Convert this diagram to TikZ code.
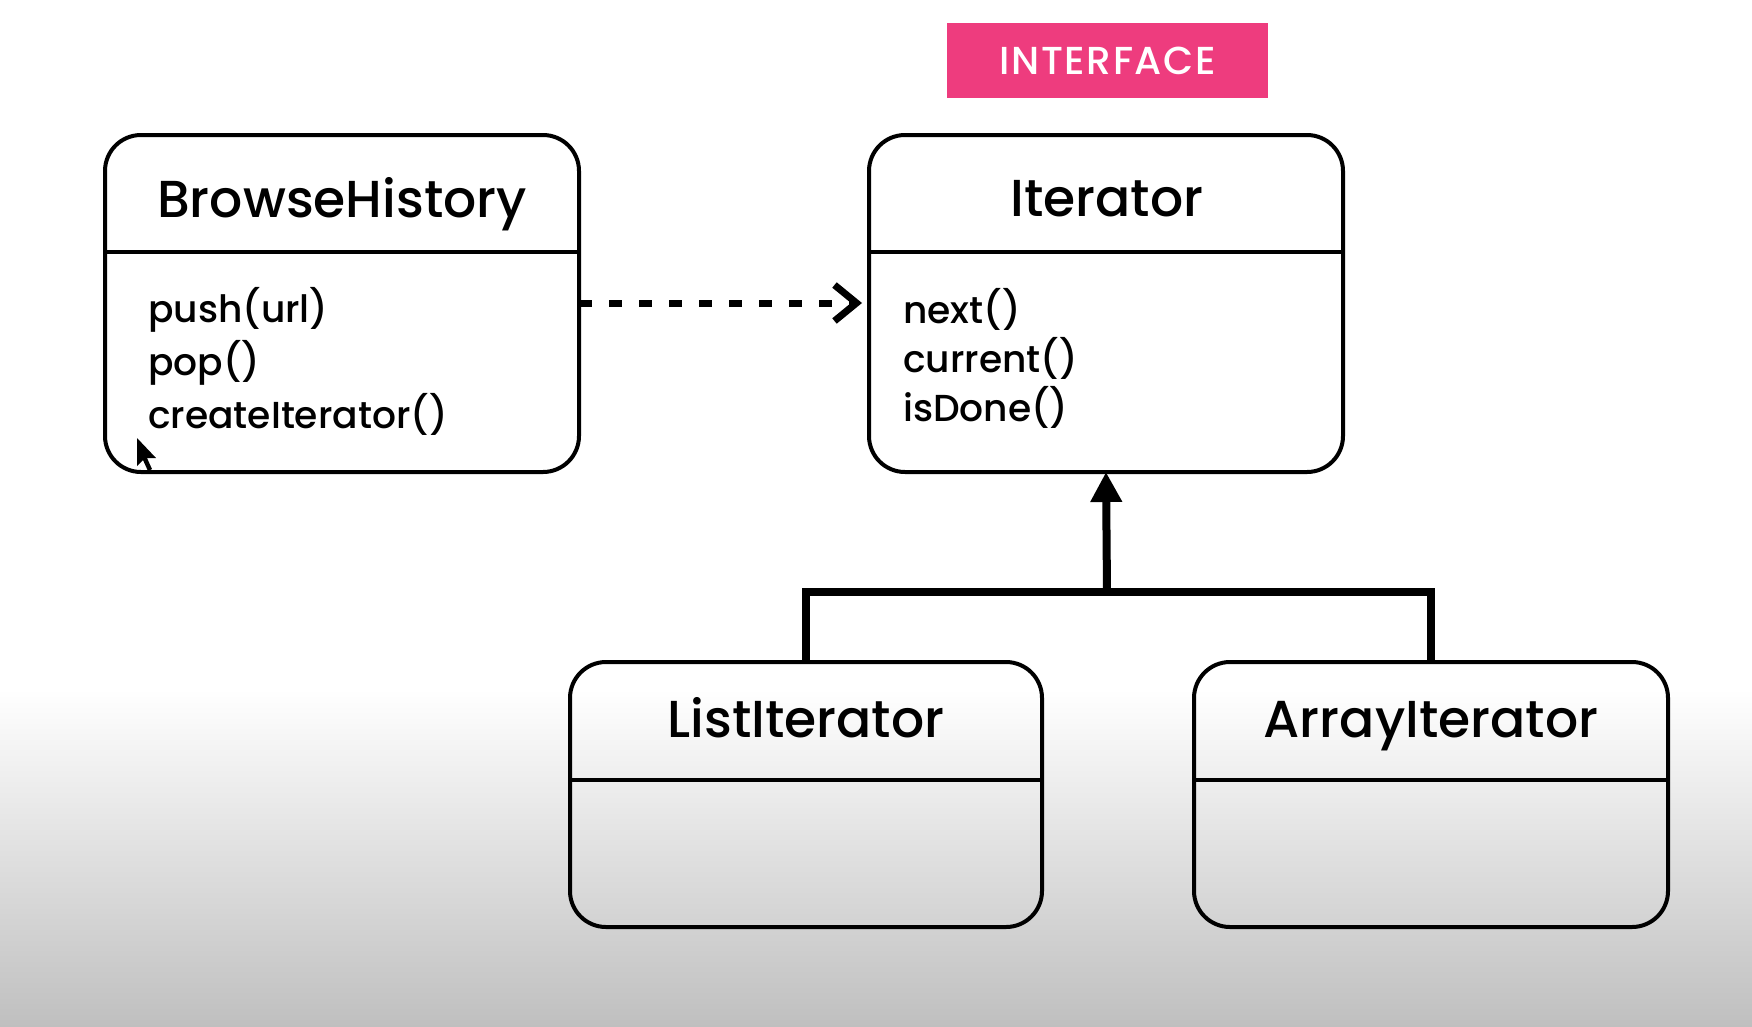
\documentclass[tikz,border=0pt]{standalone}
\usepackage{fontspec}
\setmainfont{Poppins}
\newfontfamily\titlefont{Poppins Medium}
\newfontfamily\methfont{Poppins Medium}
\newfontfamily\tagfont{Poppins Medium}[LetterSpace=4]
\usetikzlibrary{arrows.meta,calc}
\definecolor{ifpink}{RGB}{238,60,126}
\tikzset{
  umlbox/.style={draw=black, line width=4pt, rounded corners=36pt, inner sep=0pt, outer sep=0pt, anchor=north west},
  divider/.style={draw=black, line width=4pt},
  title/.style={anchor=base, inner sep=0pt, font=\titlefont\fontsize{52}{60}\selectfont},
  meth/.style={anchor=base west, inner sep=0pt, font=\methfont\fontsize{37.6}{44}\selectfont},
  dep/.style={line width=7pt, dash pattern=on 13pt off 17pt, -{Straight Barb[length=22pt,width=36pt]}},
  inh/.style={line width=8pt, -{Triangle[length=30pt,width=30pt]}},
  conn/.style={line width=8pt, line join=miter},
  tag/.style={fill=ifpink, text=white, inner sep=0pt, minimum width=321pt, minimum height=75pt, anchor=north west, font=\tagfont\fontsize{39}{44}\selectfont}
}
\begin{document}
\begin{tikzpicture}[x=1pt,y=-1pt]
% background
\useasboundingbox (0,0) rectangle (1752,1026);
\fill[white] (0,0) rectangle (1752,690);
\shade[top color=white, bottom color=black!25] (0,689) rectangle (1752,1026);

% interface tag
\node[tag] (tag) at (947,23) {INTERFACE};

% class boxes
\node[umlbox, minimum width=474pt, minimum height=337pt] (bh) at (105,135) {};
\node[umlbox, minimum width=474pt, minimum height=337pt] (it) at (869,135) {};
\node[umlbox, minimum width=472pt, minimum height=265pt] (li) at (570,662) {};
\node[umlbox, minimum width=474pt, minimum height=265pt] (ai) at (1194,662) {};

\draw[divider] ([yshift=-117pt]bh.north west) -- ([yshift=-117pt]bh.north east);
\draw[divider] ([yshift=-117pt]it.north west) -- ([yshift=-117pt]it.north east);
\draw[divider] ([yshift=-118pt]li.north west) -- ([yshift=-118pt]li.north east);
\draw[divider] ([yshift=-118pt]ai.north west) -- ([yshift=-118pt]ai.north east);

% titles
\node[title] (bht) at (342,217) {BrowseHistory};
\node[title] (itt) at (1107,216) {Iterator};
\node[title] (lit) at (806,737) {ListIterator};
\node[title] (ait) at (1431,737) {ArrayIterator};

% methods
\node[meth] (m1) at (148,322) {push(url)};
\node[meth] (m2) at (148,375) {pop()};
\node[meth] (m3) at (148,428) {createIterator()};
\node[meth] (n1) at (903,323) {next()};
\node[meth] (n2) at (903,372) {current()};
\node[meth] (n3) at (903,421) {isDone()};

% connectors
\coordinate (dy) at (0,303);
\draw[dep, shorten >=7pt] (bh.east |- dy) -- (it.west |- dy);
\coordinate (j) at (1107,592);
\draw[conn] (li.north) |- (j) -| (ai.north);
\draw[inh] (j) -- (it.south);

% mouse cursor
\fill[black] (137,438) -- (137,466) -- (143,460) -- (148,471) -- (152,469) -- (147,458) -- (156,458) -- cycle;
\end{tikzpicture}
\end{document}
